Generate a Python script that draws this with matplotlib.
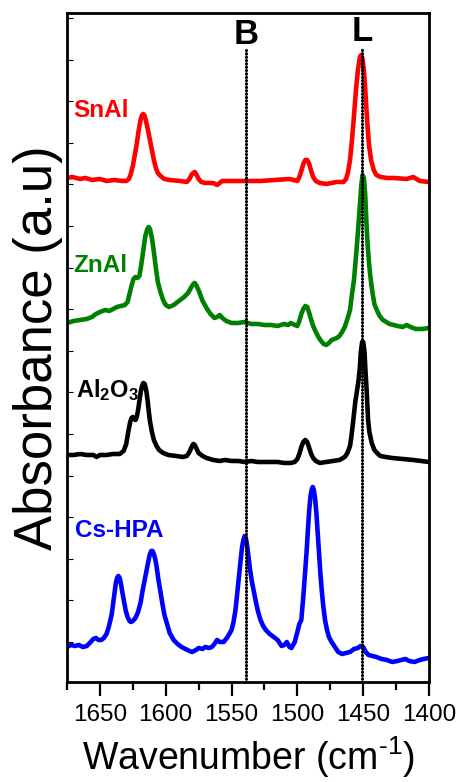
import numpy as np
import matplotlib
matplotlib.use('Agg')
import matplotlib.pyplot as plt

plt.rcParams['font.family'] = ['Liberation Sans', 'DejaVu Sans']
plt.rcParams['mathtext.fontset'] = 'custom'
plt.rcParams['mathtext.rm'] = 'Liberation Sans'
plt.rcParams['mathtext.bf'] = 'Liberation Sans:bold'
plt.rcParams['mathtext.it'] = 'Liberation Sans:italic'

# spectra (wavenumber cm-1, absorbance a.u. incl. stacking offset)
snal_wn = [1675, 1671, 1665, 1661, 1656, 1650, 1645, 1639, 1633, 1630, 1628, 1626.5, 1625,
           1623.5, 1622, 1620.5, 1619, 1618, 1617, 1616, 1615, 1613.5, 1612, 1610.5, 1609,
           1607.5, 1606, 1604, 1601, 1597, 1589, 1584, 1582, 1580, 1578, 1576.5, 1575, 1573,
           1570, 1564, 1561, 1557, 1547, 1538, 1528, 1517, 1506, 1500, 1498.5, 1497, 1495.5,
           1494, 1492.5, 1491, 1489.5, 1488, 1486, 1483, 1478, 1470, 1465, 1463, 1461.5, 1460,
           1458.5, 1457, 1455.5, 1454, 1452.5, 1451.5, 1450.5, 1449.5, 1448.5, 1447.5, 1446.5,
           1445.5, 1444, 1442, 1440, 1437, 1432, 1427, 1417, 1412, 1407, 1400]
snal_ab = [504, 505, 503, 504, 502, 503, 501, 502, 501, 501, 503, 508, 516,
           527, 538, 552, 563, 567, 568, 566, 561, 552, 542, 532, 522,
           514, 509, 506, 503, 502, 501, 500, 503, 508, 510, 507, 503, 500,
           499, 499, 497, 501, 501, 501, 501, 502, 503, 501, 505, 511, 518,
           522, 522, 518, 511, 505, 501, 499, 498, 500, 500, 503, 510, 522,
           542, 566, 592, 612, 625, 627, 623, 612, 594, 572, 552,
           536, 522, 512, 507, 505, 504, 504, 503, 505, 501, 500]

znal_wn = [1675, 1670, 1665, 1660, 1656, 1653, 1650, 1646, 1643, 1640, 1637, 1634, 1631, 1629,
           1627.5, 1626, 1624.5, 1623, 1621.5, 1620, 1618.5, 1617, 1615.5, 1614, 1613, 1612,
           1610.5, 1609, 1607.5, 1606, 1604, 1602, 1600, 1597.5, 1594, 1590, 1586, 1583,
           1580.5, 1579, 1578, 1576.5, 1574.5, 1572, 1569, 1566, 1563, 1561, 1559, 1557, 1554,
           1550, 1545, 1540, 1535, 1530, 1525, 1520, 1515, 1510, 1507, 1505, 1502, 1500,
           1498.5, 1497, 1495.5, 1494, 1492.5, 1491, 1489.5, 1488, 1486, 1484, 1482, 1480,
           1478, 1476, 1474, 1472, 1470, 1468, 1466, 1464, 1462, 1460, 1458.5, 1457, 1455.5,
           1454, 1452.5, 1451.5, 1450.5, 1449.5, 1448.5, 1447.5, 1446.5, 1445.5, 1444.5, 1443,
           1441.5, 1440, 1437.5, 1435, 1430, 1424, 1420, 1417, 1414, 1410, 1405, 1400]
znal_ab = [359, 361, 362, 363, 365, 368, 370, 372, 371, 373, 375, 376, 377, 380,
           388, 396, 403, 405, 404, 406, 418, 432, 446, 453, 455, 453,
           444, 430, 414, 400, 390, 382, 377, 375, 377, 381, 385, 389,
           395, 398, 399, 396, 390, 381, 374, 368, 364, 365, 367, 364, 361,
           359, 359, 360, 358, 358, 357, 357, 356, 358, 357, 359, 357, 356,
           361, 368, 373, 376, 375, 369, 362, 356, 350, 345, 341, 338,
           337, 339, 342, 343, 344, 346, 350, 355, 363, 372, 388, 402, 425,
           450, 477, 496, 507, 504, 488, 458, 435, 418, 405, 390,
           378, 373, 366, 362, 358, 356, 355, 357, 355, 353, 353, 354]

al2o3_wn = [1675, 1670, 1665, 1660, 1655, 1652.5, 1650, 1645, 1640, 1635, 1632, 1630, 1628.5,
            1627, 1626, 1625, 1624, 1623, 1622, 1621, 1620, 1619, 1618, 1617, 1616, 1615,
            1614, 1613, 1612, 1610.5, 1609, 1607, 1605, 1602, 1598, 1592, 1587, 1584, 1582,
            1580, 1579, 1578, 1576.5, 1575, 1572, 1569, 1564, 1559, 1555, 1550, 1545, 1540,
            1535, 1530, 1525, 1520, 1515, 1510, 1505, 1502, 1500, 1498.5, 1497, 1495.5, 1494,
            1492.5, 1491, 1489.5, 1488, 1486, 1483, 1478, 1473, 1468, 1464, 1462, 1460, 1459,
            1457.5, 1456, 1454.5, 1453.5, 1452.5, 1451.8, 1450.8, 1450, 1449, 1448.3, 1447.3,
            1446.3, 1445.3, 1443.5, 1441.5, 1439.5, 1437, 1433, 1428, 1420, 1412, 1406, 1400]
al2o3_ab = [227, 227, 228, 227, 227, 225, 227, 227, 228, 228, 231, 238, 250,
            260, 264, 265, 263, 262, 265, 272, 281, 290, 296, 299, 298, 293,
            284, 272, 261, 250, 242, 236, 232, 229, 227, 226, 225, 226, 230,
            236, 238, 237, 233, 229, 226, 224, 222, 221, 222, 221, 221, 220,
            221, 220, 220, 220, 220, 219, 219, 220, 223, 228, 235, 240, 242,
            240, 234, 228, 224, 221, 219, 220, 221, 222, 225, 229, 236, 245,
            262, 280, 293, 302, 315, 330, 340, 340, 330, 312, 290,
            262, 250, 239, 232, 229, 226, 225, 224, 223, 222, 221, 220]

cshpa_wn = [1675, 1672, 1669, 1666, 1663, 1660, 1657, 1655, 1653, 1651, 1649, 1647, 1645,
            1643.5, 1642, 1641, 1640, 1639, 1638, 1637, 1636, 1635, 1634, 1633, 1632, 1630.5,
            1629, 1627.5, 1626.5, 1625, 1623, 1621, 1619, 1617.5, 1616, 1615, 1614, 1613, 1612,
            1611, 1610, 1609, 1608, 1607, 1605.5, 1604, 1602.5, 1601, 1599, 1597, 1594, 1591,
            1588, 1585, 1582, 1580, 1577, 1575, 1572, 1570, 1567, 1565, 1563, 1561, 1559, 1556,
            1553, 1550, 1548.5, 1547, 1546, 1545, 1544, 1543, 1542, 1541, 1540, 1539, 1538,
            1537, 1536, 1534.5, 1533, 1531.5, 1530, 1528, 1526, 1524, 1521, 1518, 1515, 1512,
            1510, 1508, 1506, 1504.5, 1502, 1500, 1498.5, 1497, 1495.5, 1494, 1493, 1492, 1491,
            1490, 1489, 1488.3, 1487.5, 1486.5, 1485.5, 1484.5, 1483.5, 1482.5, 1481.5, 1480.5,
            1479, 1477.5, 1476, 1474, 1472, 1469, 1466, 1463, 1460, 1457, 1454, 1452, 1450,
            1448, 1446, 1443, 1440, 1436, 1432, 1428, 1424, 1421, 1418, 1415, 1411, 1407, 1404,
            1400]
cshpa_ab = [35, 37, 36, 37, 35, 36, 40, 43, 44, 42, 42, 44, 48,
            54, 62, 68, 78, 88, 98, 104, 106, 104, 98, 90, 83, 72,
            65, 61, 60, 61, 64, 70, 80, 92, 102, 109, 115, 122, 128,
            131, 131, 128, 123, 116, 102, 90, 78, 67, 58, 49, 42, 38,
            35, 33, 31, 30, 32, 34, 33, 35, 34, 35, 38, 42, 40, 40,
            45, 52, 60, 72, 85, 98, 110, 123, 135, 142, 146, 143, 135,
            124, 113, 100, 90, 80, 71, 62, 56, 52, 48, 45, 42, 36,
            37, 40, 35, 34, 40, 50, 58, 62, 85, 112, 130, 152, 172,
            186, 193, 195, 192, 183, 168, 148, 127, 108, 92, 78,
            62, 52, 45, 40, 36, 30, 28, 29, 30, 33, 34, 36, 35,
            30, 27, 26, 25, 23, 22, 20, 21, 22, 23, 21, 20, 22, 23,
            24]

band_pos = [1539, 1451]
band_top = [632, 635]
band_names = ['B', 'L']

fig = plt.figure(figsize=(4.58, 7.82), dpi=100)
ax = fig.add_axes([0.1463, 0.1279, 0.7904, 0.8555])

ax.plot(snal_wn, snal_ab, color='#ff0000', lw=3.3, solid_joinstyle='round')
ax.plot(znal_wn, znal_ab, color='#008000', lw=3.3, solid_joinstyle='round')
ax.plot(al2o3_wn, al2o3_ab, color='black', lw=3.3, solid_joinstyle='round')
ax.plot(cshpa_wn, cshpa_ab, color='#0000ff', lw=3.3, solid_joinstyle='round')

for p, t, name in zip(band_pos, band_top, band_names):
    ax.plot([p, p], [0, t], color='black', lw=2.2, linestyle=(0, (0.1, 1.0)),
            dash_capstyle='round', zorder=5)
    ax.text(p, t + 6, name, ha='center', va='baseline', fontsize=25, fontweight='bold')

ax.text(1670.5, 565, 'SnAl', color='#ff0000', fontsize=17.5, fontweight='bold')
ax.text(1670.5, 410, 'ZnAl', color='#008000', fontsize=17.5, fontweight='bold')
ax.text(1668.5, 285, r'$\mathbf{Al_2O_3}$', color='black', fontsize=17)
ax.text(1669, 145, 'Cs-HPA', color='#0000ff', fontsize=17.5, fontweight='bold')

ax.set_xlim(1675, 1400)
ax.set_ylim(0, 669)
ax.set_xticks([1650, 1600, 1550, 1500, 1450, 1400])
ax.set_xticks([1675, 1625, 1575, 1525, 1475, 1425], minor=True)
ax.set_yticks(np.arange(40, 669, 41.6))
ax.tick_params(axis='x', which='major', direction='out', length=10, width=1.6, labelsize=17.5, pad=6)
ax.tick_params(axis='x', which='minor', direction='out', length=6, width=1.6)
ax.tick_params(axis='y', direction='in', length=4, width=0.8, labelleft=False)
for s in ax.spines.values():
    s.set_linewidth(2)

ax.set_xlabel(r'Wavenumber (cm$^{\text{-}1}$)', fontsize=27, labelpad=6)
ax.set_ylabel('Absorbance (a.u)', fontsize=38, labelpad=3)

fig.savefig('out.png', dpi=100)
